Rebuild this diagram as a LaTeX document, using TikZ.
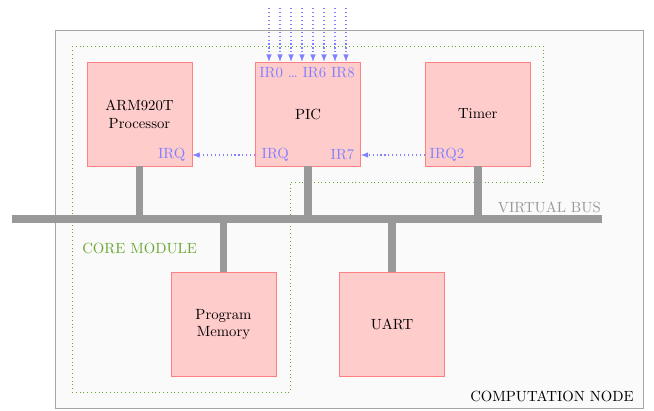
\documentclass[tikz,border=0pt]{standalone}
\usepackage{tikz}
\usetikzlibrary{positioning,arrows}

\definecolor{boxfill}{HTML}{FFCCCC}
\definecolor{boxdraw}{HTML}{FF8080}
\definecolor{irqblue}{HTML}{8080FF}
\definecolor{coregreen}{HTML}{6AA632}
\definecolor{busgray}{HTML}{999999}

\begin{document}
\begin{tikzpicture}[x=0.025cm,y=-0.025cm,font=\fontsize{10.5}{12.6}\selectfont]
\tikzstyle{unit}=[draw=boxdraw,fill=boxfill,minimum width=2.625cm,minimum height=2.6cm,align=center,inner sep=0pt]
\tikzstyle{irq}=[text=irqblue,inner sep=1pt]
\tikzstyle{bus}=[draw=busgray,line width=5.5pt]
\tikzstyle{sig}=[draw=irqblue,dotted,thick,-latex]

\useasboundingbox (0,0) rectangle (654,410);

% computation node
\draw[gray!70,fill=black!2,line width=0.7pt] (55,30) rectangle (643,408);
\node[anchor=base east,inner sep=0pt] (nodelabel) at (634,401) {COMPUTATION NODE};

% core module
\draw[coregreen,dotted,line width=0.7pt] (72,46) -- (543,46) -- (543,182) -- (290,182) -- (290,392) -- (72,392) -- cycle;
\node[text=coregreen,anchor=base west,inner sep=0pt] (corelabel) at (82,253) {CORE MODULE};

% units
\node[unit] (arm) at (139.5,114) {ARM920T\\Processor};
\node[unit,right=1.575cm of arm] (pic) {PIC};
\node[unit,right=1.6cm of pic] (timer) {Timer};
\node[unit] (mem) at (223.5,324.5) {Program\\Memory};
\node[unit] (uart) at (392,324.5) {UART};

% virtual bus
\coordinate (busL) at (12,219);
\coordinate (busR) at (602,219);
\draw[bus] (busL) -- (busR);
\node[text=busgray,anchor=base east,inner sep=0pt] (buslabel) at (601,212) {VIRTUAL BUS};

\draw[bus] (arm.south) -- (arm.south |- busL);
\draw[bus] (pic.south) -- (pic.south |- busL);
\draw[bus] (timer.south) -- (timer.south |- busL);
\draw[bus] (mem.north) -- (mem.north |- busL);
\draw[bus] (uart.north) -- (uart.north |- busL);

% interrupt lines
\node[irq,anchor=east] (armirq) at (187,155) {IRQ};
\node[irq,anchor=west] (picirq) at (260,155) {IRQ};
\node[irq,anchor=east] (picir7) at (356,155) {IR7};
\node[irq,anchor=west] (timirq) at (428,155) {IRQ2};
\node[irq] (picin) at (307,73) {IR0 \dots\ IR6 IR8};

\draw[sig] (pic.west |- picirq) -- (arm.east |- armirq);
\draw[sig] (timer.west |- timirq) -- (pic.east |- picir7);

\foreach \i in {0,...,7} {
	\coordinate (in\i) at (269+11*\i,8); %input line
	\draw[sig] (in\i) -- (in\i |- pic.north);
}
\end{tikzpicture}
\end{document}
